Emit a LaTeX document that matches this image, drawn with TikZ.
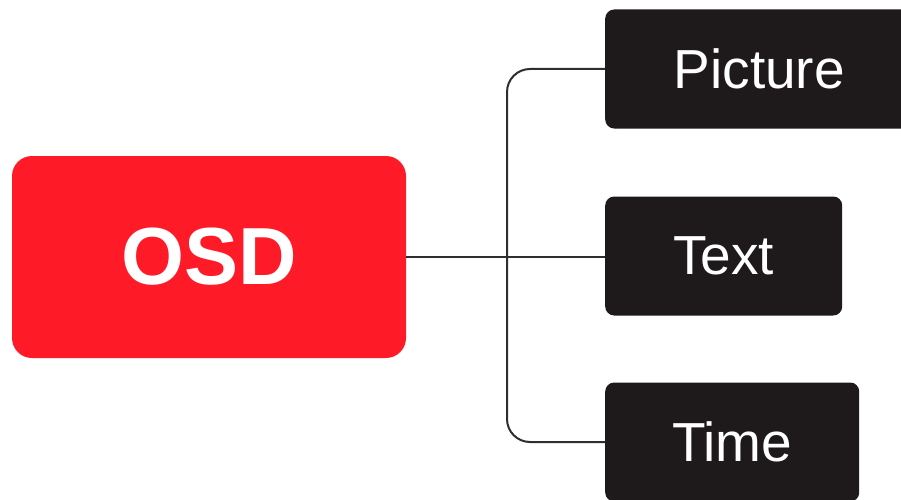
\documentclass[tikz,border=0pt]{standalone}
\usepackage{fontspec}
\setmainfont{Liberation Sans}
\usepackage{xcolor}
\usetikzlibrary{positioning}
\definecolor{osdred}{HTML}{FF1A28}
\definecolor{boxblack}{HTML}{1E1A1B}
\definecolor{wire}{HTML}{2E2E2E}
\tikzset{
  leaf/.style={fill=boxblack,text=white,rounded corners=9pt,minimum height=119pt,anchor=west,inner sep=0pt,font=\fontsize{55}{60}\selectfont},
  link/.style={draw=wire,line width=2pt}
}
\begin{document}
\begin{tikzpicture}[x=1pt,y=1pt]
\useasboundingbox (0,0) rectangle (901,499);
\clip (0,0) rectangle (901,499);
\node[fill=osdred,text=white,rounded corners=20pt,minimum width=394pt,minimum height=202pt,inner sep=0pt,font=\fontsize{81}{90}\selectfont\bfseries] (osd) at (209,242) {OSD};
\node[leaf,minimum width=308pt] (picture) at (605,430) {Picture};
\node[leaf,minimum width=237pt] (text) at (605,243) {Text};
\node[leaf,minimum width=254pt] (time) at (605,57) {Time};
\coordinate (hub) at (507,242);
\draw[link,line width=2.6pt] (osd.east) -- (hub);
\draw[link] (hub) -- (osd.east -| text.west);
\draw[link,rounded corners=23pt] (picture.west) -| (hub |- time.west) -- (time.west);
\end{tikzpicture}
\end{document}
